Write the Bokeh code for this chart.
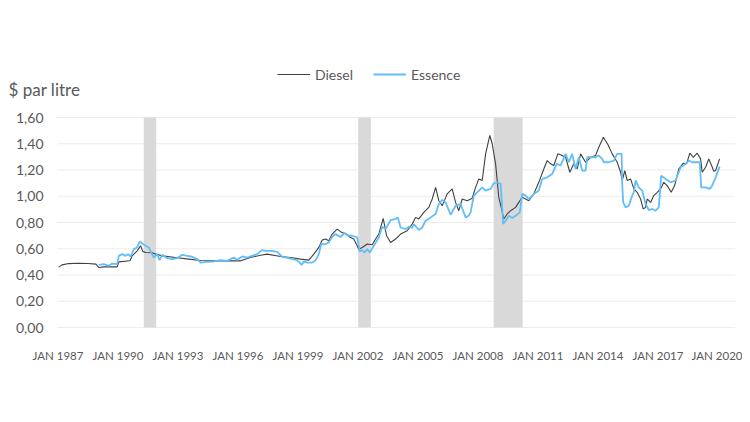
from bokeh.plotting import figure
from bokeh.models import FixedTicker, Legend, LegendItem, Label, Range1d
from bokeh.core.properties import value
from bokeh.embed import file_html
from bokeh.resources import INLINE

# ---------------- data ----------------
diesel_year = [1987.04, 1987.2, 1987.54, 1988.0, 1988.5, 1988.9, 1989.04, 1989.3, 1989.96, 1990.04,
               1990.6, 1990.71, 1990.96, 1991.13, 1991.24, 1991.38, 1991.71, 1991.88, 1992.21, 1992.88,
               1993.54, 1994.13, 1994.79, 1995.5, 1996.13, 1996.63, 1997.13, 1997.46, 1998.13, 1998.63,
               1999.13, 1999.54, 1999.79, 2000.04, 2000.21, 2000.38, 2000.54, 2000.71, 2000.96, 2001.13,
               2001.38, 2001.63, 2001.79, 2002.04, 2002.21, 2002.46, 2002.71, 2002.88, 2003.04, 2003.26,
               2003.43, 2003.63, 2003.88, 2004.13, 2004.46, 2004.71, 2004.88, 2005.04, 2005.29, 2005.54,
               2005.71, 2005.88, 2006.04, 2006.21, 2006.46, 2006.71, 2006.88, 2007.04, 2007.21, 2007.46,
               2007.71, 2007.88, 2008.04, 2008.21, 2008.38, 2008.59, 2008.71, 2008.88, 2009.04, 2009.16,
               2009.29, 2009.46, 2009.63, 2009.88, 2010.04, 2010.21, 2010.38, 2010.54, 2010.79, 2011.04,
               2011.29, 2011.46, 2011.63, 2011.79, 2011.99, 2012.21, 2012.38, 2012.59, 2012.79, 2012.96,
               2013.13, 2013.38, 2013.63, 2013.88, 2014.04, 2014.27, 2014.5, 2014.71, 2014.96, 2015.13,
               2015.21, 2015.34, 2015.46, 2015.63, 2015.79, 2015.96, 2016.13, 2016.26, 2016.38, 2016.46,
               2016.63, 2016.79, 2016.96, 2017.13, 2017.29, 2017.46, 2017.66, 2017.83, 2018.04, 2018.26,
               2018.43, 2018.59, 2018.76, 2018.96, 2019.13, 2019.21, 2019.38, 2019.54, 2019.68, 2019.79,
               2019.88, 2020.08]
diesel_price = [0.46, 0.477, 0.487, 0.49, 0.488, 0.483, 0.457, 0.462, 0.462, 0.50,
                0.508, 0.546, 0.584, 0.623, 0.58, 0.571, 0.569, 0.559, 0.546, 0.533,
                0.521, 0.51, 0.508, 0.508, 0.508, 0.533, 0.551, 0.559, 0.541, 0.533,
                0.521, 0.513, 0.559, 0.61, 0.666, 0.674, 0.661, 0.712, 0.75, 0.73,
                0.712, 0.685, 0.674, 0.597, 0.61, 0.636, 0.63, 0.674, 0.712, 0.831,
                0.699, 0.648, 0.674, 0.712, 0.737, 0.788, 0.839, 0.827, 0.877, 0.915,
                0.979, 1.068, 0.966, 0.928, 1.018, 1.056, 0.953, 0.89, 0.979, 0.966,
                0.985, 1.068, 1.132, 1.12, 1.323, 1.463, 1.40, 1.247, 0.992, 0.915,
                0.827, 0.865, 0.89, 0.915, 0.953, 0.992, 0.979, 0.966, 1.018, 1.106,
                1.208, 1.272, 1.247, 1.234, 1.323, 1.31, 1.297, 1.183, 1.247, 1.208,
                1.323, 1.259, 1.297, 1.31, 1.374, 1.45, 1.393, 1.323, 1.259, 1.183,
                1.12, 1.196, 1.12, 1.132, 1.056, 1.03, 0.979, 0.903, 0.915, 0.979,
                0.953, 1.005, 1.03, 1.056, 1.106, 1.081, 1.03, 1.081, 1.208, 1.251,
                1.247, 1.328, 1.297, 1.328, 1.285, 1.183, 1.221, 1.285, 1.234, 1.19,
                1.196, 1.285]

essence_year = [1989.04, 1989.29, 1989.54, 1989.71, 1989.96, 1990.04, 1990.21, 1990.38, 1990.51, 1990.63,
                1990.79, 1990.96, 1991.08, 1991.21, 1991.38, 1991.54, 1991.68, 1991.79, 1991.96, 1992.08,
                1992.21, 1992.46, 1992.71, 1992.96, 1993.21, 1993.46, 1993.71, 1993.96, 1994.13, 1994.46,
                1994.79, 1995.13, 1995.46, 1995.79, 1995.96, 1996.21, 1996.46, 1996.71, 1996.96, 1997.21,
                1997.38, 1997.71, 1997.96, 1998.21, 1998.54, 1998.88, 1999.04, 1999.18, 1999.29, 1999.46,
                1999.71, 1999.88, 2000.04, 2000.16, 2000.38, 2000.54, 2000.71, 2000.88, 2001.0, 2001.13,
                2001.33, 2001.54, 2001.71, 2001.96, 2002.09, 2002.21, 2002.33, 2002.46, 2002.59, 2002.79,
                2003.04, 2003.21, 2003.38, 2003.63, 2003.88, 2003.99, 2004.13, 2004.38, 2004.54, 2004.71,
                2004.79, 2005.04, 2005.21, 2005.38, 2005.63, 2005.88, 2006.04, 2006.21, 2006.38, 2006.63,
                2006.88, 2007.13, 2007.38, 2007.54, 2007.63, 2007.79, 2007.96, 2008.21, 2008.38, 2008.63,
                2008.79, 2008.96, 2009.13, 2009.26, 2009.38, 2009.54, 2009.71, 2009.88, 2010.09, 2010.21,
                2010.38, 2010.54, 2010.79, 2011.04, 2011.21, 2011.46, 2011.71, 2011.93, 2012.13, 2012.38,
                2012.54, 2012.71, 2012.88, 2013.04, 2013.21, 2013.38, 2013.46, 2013.71, 2013.88, 2014.04,
                2014.21, 2014.29, 2014.54, 2014.79, 2014.96, 2015.18, 2015.21, 2015.26, 2015.38, 2015.54,
                2015.71, 2015.79, 2015.88, 2016.04, 2016.21, 2016.38, 2016.54, 2016.71, 2016.88, 2017.04,
                2017.16, 2017.38, 2017.63, 2017.88, 2018.13, 2018.38, 2018.54, 2018.71, 2019.09, 2019.16,
                2019.38, 2019.59, 2019.71, 2019.88, 2020.08]
essence_price = [0.477, 0.483, 0.47, 0.487, 0.483, 0.546, 0.559, 0.546, 0.559, 0.539,
                 0.597, 0.61, 0.655, 0.64, 0.623, 0.61, 0.564, 0.533, 0.559, 0.513,
                 0.554, 0.528, 0.521, 0.528, 0.554, 0.546, 0.539, 0.521, 0.495, 0.50,
                 0.503, 0.513, 0.508, 0.533, 0.516, 0.541, 0.533, 0.546, 0.559, 0.59,
                 0.584, 0.584, 0.577, 0.539, 0.528, 0.516, 0.503, 0.477, 0.503, 0.495,
                 0.495, 0.513, 0.559, 0.636, 0.636, 0.648, 0.691, 0.712, 0.70, 0.69,
                 0.72, 0.70, 0.699, 0.686, 0.579, 0.59, 0.571, 0.597, 0.571, 0.623,
                 0.686, 0.768, 0.75, 0.819, 0.827, 0.839, 0.762, 0.75, 0.768, 0.758,
                 0.788, 0.743, 0.762, 0.814, 0.839, 0.865, 0.941, 0.972, 0.953, 0.859,
                 0.928, 0.941, 0.839, 0.852, 0.877, 1.005, 1.03, 1.068, 1.043, 1.056,
                 1.099, 1.106, 1.094, 0.788, 0.814, 0.852, 0.834, 0.852, 0.877, 1.018,
                 1.005, 0.979, 1.018, 1.043, 1.132, 1.144, 1.17, 1.247, 1.234, 1.323,
                 1.259, 1.323, 1.208, 1.297, 1.196, 1.196, 1.297, 1.297, 1.297, 1.31,
                 1.285, 1.259, 1.259, 1.272, 1.323, 1.323, 1.094, 0.953, 0.915, 0.928,
                 1.005, 1.03, 1.12, 1.068, 1.043, 0.941, 0.895, 0.903, 0.89, 0.915,
                 1.157, 1.132, 1.106, 1.12, 1.221, 1.247, 1.272, 1.259, 1.259, 1.068,
                 1.068, 1.056, 1.081, 1.144, 1.226]

recession_start = [1991.29, 2002.01, 2008.78]
recession_end = [1991.91, 2002.64, 2010.23]

x_tick_years = [1987, 1990, 1993, 1996, 1999, 2002, 2005, 2008, 2011, 2014, 2017, 2020]
x_tick_labels = ["JAN 1987", "JAN 1990", "JAN 1993", "JAN 1996", "JAN 1999", "JAN 2002",
                 "JAN 2005", "JAN 2008", "JAN 2011", "JAN 2014", "JAN 2017", "JAN 2020"]
y_tick_values = [0, 0.2, 0.4, 0.6, 0.8, 1.0, 1.2, 1.4, 1.6]
y_tick_labels = ["0,00", "0,20", "0,40", "0,60", "0,80", "1,00", "1,20", "1,40", "1,60"]

series_names = ["Diesel", "Essence"]
unit_label = "$ par litre"

# ---------------- layout constants ----------------
FONT = "Lato"
TEXT_COLOR = "#595959"
W, H = 742, 414
PLOT_LEFT_PX = 57        # left edge of the value area (px from figure left)
FRAME_RIGHT_PX = 735     # right edge of frame
PLOT_TOP_PX = 117        # y px of value 1.60
ZERO_PX = 327            # y px of value 0
FRAME_BOTTOM_PX = 340    # frame extends a little below zero so "0,00" is not clipped
PX_PER_YEAR = 20.0
X0 = 1986.975            # year at left edge of value area
X1 = X0 + (FRAME_RIGHT_PX - PLOT_LEFT_PX) / PX_PER_YEAR
Y_MAX = 1.6
px_per_unit = (ZERO_PX - PLOT_TOP_PX) / Y_MAX

x_start = X0 - PLOT_LEFT_PX / PX_PER_YEAR
y_start = -(FRAME_BOTTOM_PX - ZERO_PX) / px_per_unit
y_end = ZERO_PX / px_per_unit

p = figure(width=W, height=H, output_backend="svg", toolbar_location=None,
           x_range=Range1d(x_start, X1), y_range=Range1d(y_start, y_end),
           min_border_left=0, min_border_right=W - FRAME_RIGHT_PX, min_border_top=0,
           min_border_bottom=H - FRAME_BOTTOM_PX)
p.outline_line_color = None
p.background_fill_color = "white"
p.border_fill_color = "white"
p.xgrid.visible = False
p.ygrid.visible = False
p.yaxis.visible = False

p.xaxis.ticker = FixedTicker(ticks=x_tick_years)
p.xaxis.major_label_overrides = {y: l for y, l in zip(x_tick_years, x_tick_labels)}
p.xaxis.major_tick_line_color = None
p.xaxis.minor_tick_line_color = None
p.xaxis.axis_line_color = None
p.xaxis.major_label_text_font = FONT
p.xaxis.major_label_text_color = TEXT_COLOR
p.xaxis.major_label_text_font_size = "11.5px"
p.xaxis.major_label_standoff = 2

# horizontal gridlines over the value area
p.segment(x0=X0, x1=X1, y0=y_tick_values, y1=y_tick_values,
          line_color="#ECECEC", line_width=1)

# y tick labels
p.text(x=X0, y=y_tick_values, text=y_tick_labels, x_offset=-14,
       text_align="right", text_baseline="middle", text_font=value(FONT),
       text_font_size="14px", text_color=TEXT_COLOR)

# recession shading
p.quad(left=recession_start, right=recession_end, bottom=0, top=Y_MAX,
       fill_color="#D9D9D9", line_color=None)

r_d = p.line(diesel_year, diesel_price, line_color="#404040", line_width=1.1)
r_e = p.line(essence_year, essence_price, line_color="#62BEF8", line_width=1.8)

legend = Legend(items=[LegendItem(label=series_names[0], renderers=[r_d]),
                       LegendItem(label=series_names[1], renderers=[r_e])],
                orientation="horizontal", location=(277, FRAME_BOTTOM_PX - 83))
legend.border_line_color = None
legend.background_fill_alpha = 0
legend.padding = 0
legend.margin = 0
legend.spacing = 20
legend.glyph_width = 33
legend.glyph_height = 18
legend.label_height = 18
legend.label_standoff = 5
legend.label_text_font = FONT
legend.label_text_font_size = "14px"
legend.label_text_color = TEXT_COLOR
p.add_layout(legend, "center")

p.add_layout(Label(x=x_start + 8 / PX_PER_YEAR, y=(ZERO_PX - 88.5) / px_per_unit,
                   text=unit_label, text_font=FONT, text_font_size="17px",
                   text_color=TEXT_COLOR, text_baseline="alphabetic", text_align="left"))

open("out.html", "w").write(file_html(p, INLINE))
